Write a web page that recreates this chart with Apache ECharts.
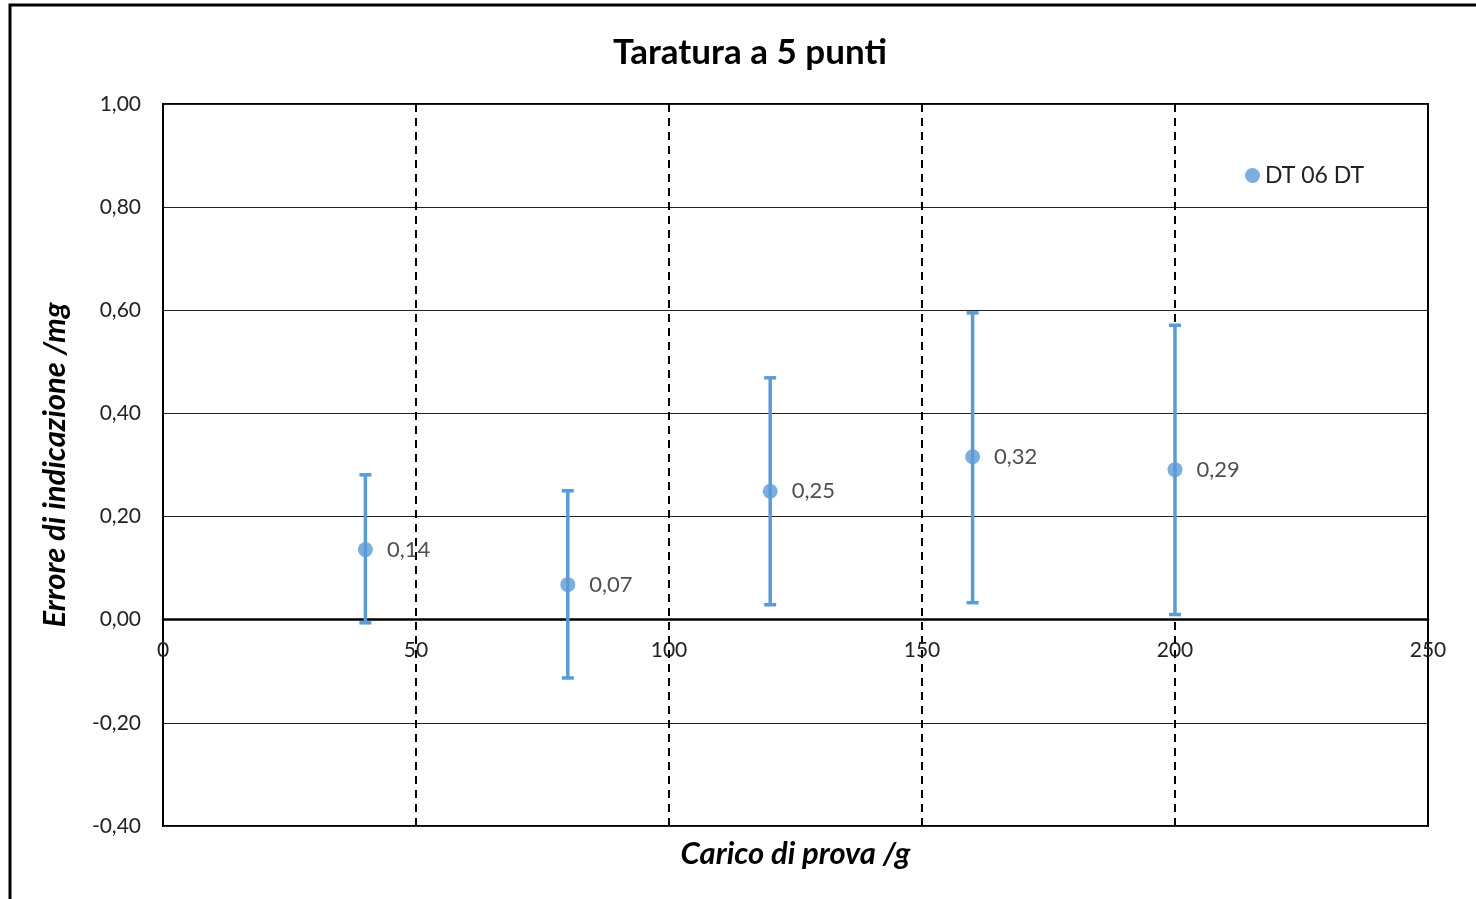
<!DOCTYPE html>
<html>
<head>
<meta charset="utf-8">
<script src="https://cdn.jsdelivr.net/npm/echarts@6/dist/echarts.min.js"></script>
<style>
html,body{margin:0;padding:0;background:#fff;}
#chart{width:1476px;height:899px;}
</style>
</head>
<body>
<div id="chart"></div>
<script>
// Data
const loads = [40, 80, 120, 160, 200];
const errors = [0.136, 0.068, 0.249, 0.316, 0.291];
const errLow = [-0.006, -0.113, 0.029, 0.033, 0.010];
const errHigh = [0.281, 0.250, 0.469, 0.595, 0.571];
const seriesName = 'DT 06 DT';
const yTicks = [-0.4, -0.2, 0, 0.2, 0.4, 0.6, 0.8, 1.0];
const xTicks = [0, 50, 100, 150, 200, 250];

const FONT = 'Lato, "Open Sans", sans-serif';
const blue = '#5B9BD5';
const fmt = v => v.toFixed(2).replace('.', ',');

const chart = echarts.init(document.getElementById('chart'));
const option = {
  animation: false,
  backgroundColor: '#fff',
  graphic: [{
    type: 'rect',
    shape: {x: 10, y: 5, width: 1480, height: 910},
    style: {fill: 'none', stroke: '#000', lineWidth: 3},
    silent: true
  }],
  title: {
    text: 'Taratura a 5 punti',
    left: 745, top: 30, textAlign: 'center',
    textStyle: {fontFamily: FONT, fontWeight: 'bold', fontSize: 35, color: '#000'}
  },
  legend: {
    data: [{name: seriesName, icon: 'circle'}],
    left: 1240, top: 159,
    itemWidth: 15, itemHeight: 15, itemGap: 6,
    textStyle: {fontFamily: FONT, fontSize: 23, color: '#222'}
  },
  grid: {
    left: 163, right: 48, top: 104, bottom: 73,
    show: true, borderColor: '#000', borderWidth: 2,
    containLabel: false,
    outerBoundsMode: 'none'
  },
  xAxis: {
    type: 'value', min: 0, max: 250, interval: 50,
    name: 'Carico di prova /g', nameLocation: 'middle', nameGap: 12,
    nameTextStyle: {fontFamily: FONT, fontStyle: 'italic', fontWeight: 'bold', fontSize: 31, color: '#000'},
    axisLine: {show: true, onZero: true, lineStyle: {color: '#000', width: 2.5}},
    axisTick: {show: false},
    axisLabel: {fontFamily: FONT, fontSize: 21, color: '#222', margin: -186,
      formatter: v => xTicks.includes(v) ? String(v) : ''},
    splitLine: {show: true, lineStyle: {color: '#000', type: [8, 6], width: 2}}
  },
  yAxis: {
    type: 'value', min: -0.4, max: 1.0, interval: 0.2,
    name: 'Errore di indicazione /mg', nameLocation: 'middle', nameGap: 93,
    nameTextStyle: {fontFamily: FONT, fontStyle: 'italic', fontWeight: 'bold', fontSize: 31, color: '#000'},
    axisLine: {show: false},
    axisTick: {show: false},
    axisLabel: {fontFamily: FONT, fontSize: 21, color: '#222', margin: 22,
      formatter: v => {
        const t = yTicks.find(k => Math.abs(k - v) < 1e-6);
        return t === undefined ? '' : fmt(t);
      }},
    splitLine: {show: true, lineStyle: {color: '#222', width: 1.2}}
  },
  series: [
    {
      type: 'custom',
      name: 'err',
      silent: true,
      z: 2,
      data: loads.map((x, i) => [x, errLow[i], errHigh[i]]),
      encode: {x: 0, y: [1, 2]},
      renderItem: (params, api) => {
        const x = api.value(0);
        const lo = api.coord([x, api.value(1)]);
        const hi = api.coord([x, api.value(2)]);
        const cap = 6;
        const st = {stroke: blue, lineWidth: 3.5, fill: 'none'};
        return {
          type: 'group',
          children: [
            {type: 'line', shape: {x1: lo[0], y1: lo[1], x2: hi[0], y2: hi[1]}, style: st},
            {type: 'line', shape: {x1: lo[0] - cap, y1: lo[1], x2: lo[0] + cap, y2: lo[1]}, style: st},
            {type: 'line', shape: {x1: hi[0] - cap, y1: hi[1], x2: hi[0] + cap, y2: hi[1]}, style: st}
          ]
        };
      }
    },
    {
      type: 'scatter',
      name: seriesName,
      z: 3,
      symbol: 'circle',
      symbolSize: 15,
      itemStyle: {color: blue},
      data: loads.map((x, i) => [x, errors[i]]),
      label: {
        show: true, position: 'right', distance: 14,
        fontFamily: FONT, fontSize: 22, color: '#222',
        formatter: p => fmt(p.value[1])
      }
    }
  ]
};
chart.setOption(option);
</script>
</body>
</html>
